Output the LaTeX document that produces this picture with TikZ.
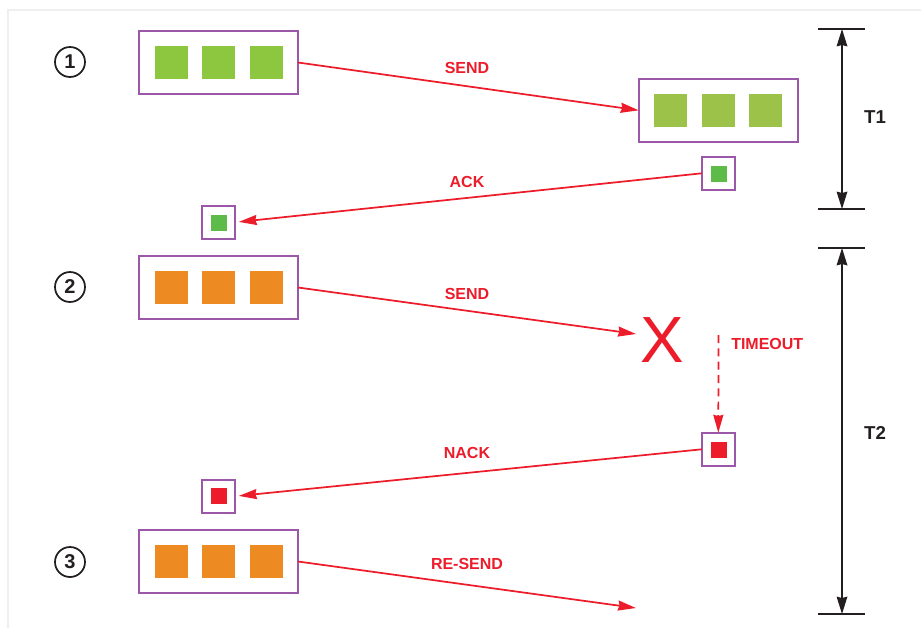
\documentclass[tikz,border=0pt]{standalone}
\usepackage{fontspec}
\setmainfont{Liberation Sans}
\usetikzlibrary{arrows.meta}
\definecolor{frameg}{HTML}{EFEFEF}
\definecolor{boxp}{HTML}{9B58A8}
\definecolor{arrowr}{HTML}{EC1C2A}
\definecolor{greenA}{HTML}{8DC63F}
\definecolor{greenB}{HTML}{9CC24A}
\definecolor{greenC}{HTML}{5DBB4A}
\definecolor{orangeA}{HTML}{EE8A22}
\definecolor{inkk}{HTML}{231F20}
\def\u{0.75pt}
\tikzset{
  bigbox/.style={draw=boxp, line width=1.5pt, minimum width=159*\u, minimum height=63*\u, inner sep=0pt, outer sep=0pt},
  smallbox/.style={draw=boxp, line width=1.5pt, minimum width=33*\u, minimum height=33*\u, inner sep=0pt, outer sep=0pt},
  sq/.style={fill=#1, minimum width=33*\u, minimum height=33*\u, inner sep=0pt, outer sep=0pt},
  smallsq/.style={fill=#1, minimum width=16*\u, minimum height=16*\u, inner sep=0pt, outer sep=0pt},
  numcirc/.style={draw=inkk, line width=1.3pt, circle, minimum size=30*\u, inner sep=0pt, font=\bfseries\fontsize{15pt}{15pt}\selectfont, text=inkk},
  redlbl/.style={text=arrowr, font=\bfseries\fontsize{12pt}{12pt}\selectfont, inner sep=0pt},
  redarrow/.style={draw=arrowr, line width=1.3pt, -{Stealth[length=13.5pt, width=7.5pt, inset=1pt]}},
  blackarrow/.style={draw=inkk, line width=1.1pt, {Stealth[length=13pt, width=8pt, inset=1pt]}-{Stealth[length=13pt, width=8pt, inset=1pt]}},
  tick/.style={draw=inkk, line width=1.1pt},
  tlbl/.style={text=inkk, font=\bfseries\fontsize{14pt}{14pt}\selectfont, inner sep=0pt}
}
\begin{document}
\begin{tikzpicture}[x=0.75pt, y=-0.75pt]
\useasboundingbox (0,0) rectangle (921,628);
% frame
\coordinate (fr1) at (8,628);
\coordinate (fr2) at (8,10);
\coordinate (fr3) at (921,10);
\draw[frameg, line width=2pt] (fr1) -- (fr2) -- (fr3);

% row 1
\node[numcirc] (c1) at (70,62) {1};
\node[bigbox] (A1) at (218.5,62.5) {};
\node[sq=greenA] (A1a) at (171.5,62.5) {};
\node[sq=greenA] (A1b) at (218.5,62.5) {};
\node[sq=greenA] (A1c) at (266.5,62.5) {};
\node[bigbox] (B1) at (718.2,110.3) {};
\node[sq=greenB] (B1a) at (670.5,110.5) {};
\node[sq=greenB] (B1b) at (718.5,110.5) {};
\node[sq=greenB] (B1c) at (765.5,110.5) {};
\draw[redarrow] (A1.east) -- (B1.west);
\node[redlbl] (l1) at (467,68) {SEND};

\node[smallbox] (ackR) at (718.3,173.3) {};
\node[smallsq=greenC] (ackRs) at (718.5,173.5) {};
\node[smallbox] (ackL) at (218.3,222.3) {};
\node[smallsq=greenC] (ackLs) at (218.5,222.5) {};
\draw[redarrow, shorten >=3pt] (ackR.west) -- (ackL.east);
\node[redlbl] (l2) at (467,182) {ACK};

% row 2
\node[numcirc] (c2) at (70,287) {2};
\node[bigbox] (A2) at (218.5,287.5) {};
\node[sq=orangeA] (A2a) at (171.5,287.5) {};
\node[sq=orangeA] (A2b) at (218.5,287.5) {};
\node[sq=orangeA] (A2c) at (266.5,287.5) {};
\node[text=arrowr, font=\fontsize{49pt}{49pt}\selectfont, inner sep=0pt] (X) at (662,340) {X};
\coordinate (s2end) at (636,334);
\draw[redarrow] (A2.east) -- (s2end);
\node[redlbl] (l3) at (467,294) {SEND};

\node[smallbox] (nackR) at (718.3,449.3) {};
\node[smallsq=arrowr] (nackRs) at (718.5,449.5) {};
\node[smallbox] (nackL) at (218.3,496.3) {};
\node[smallsq=arrowr] (nackLs) at (218.5,496) {};
\coordinate (tostart) at (718.5,335);
\draw[redarrow, dash pattern=on 6pt off 4pt] (tostart) -- (nackR.north);
\node[redlbl, anchor=west] (l4) at (731,344) {TIMEOUT};
\draw[redarrow, shorten >=3pt] (nackR.west) -- (nackL.east);
\node[redlbl] (l5) at (467,453) {NACK};

% row 3
\node[numcirc] (c3) at (70,562) {3};
\node[bigbox] (A3) at (218.5,561.5) {};
\node[sq=orangeA] (A3a) at (171.5,561.5) {};
\node[sq=orangeA] (A3b) at (218.5,561.5) {};
\node[sq=orangeA] (A3c) at (266.5,561.5) {};
\coordinate (s3end) at (636,608);
\draw[redarrow] (A3.east) -- (s3end);
\node[redlbl] (l6) at (467,564) {RE-SEND};

% timing bars
\coordinate (t1aL) at (818,29);  \coordinate (t1aR) at (865,29);
\coordinate (t1bL) at (818,209); \coordinate (t1bR) at (865,209);
\coordinate (t1a) at (842,29);   \coordinate (t1b) at (842,209);
\draw[tick] (t1aL) -- (t1aR);
\draw[tick] (t1bL) -- (t1bR);
\draw[blackarrow] (t1a) -- (t1b);
\node[tlbl] (T1) at (875,117) {T1};

\coordinate (t2aL) at (818,248); \coordinate (t2aR) at (865,248);
\coordinate (t2bL) at (818,614); \coordinate (t2bR) at (865,614);
\coordinate (t2a) at (842,248);  \coordinate (t2b) at (842,614);
\draw[tick] (t2aL) -- (t2aR);
\draw[tick] (t2bL) -- (t2bR);
\draw[blackarrow] (t2a) -- (t2b);
\node[tlbl] (T2) at (875,433) {T2};
\end{tikzpicture}
\end{document}
